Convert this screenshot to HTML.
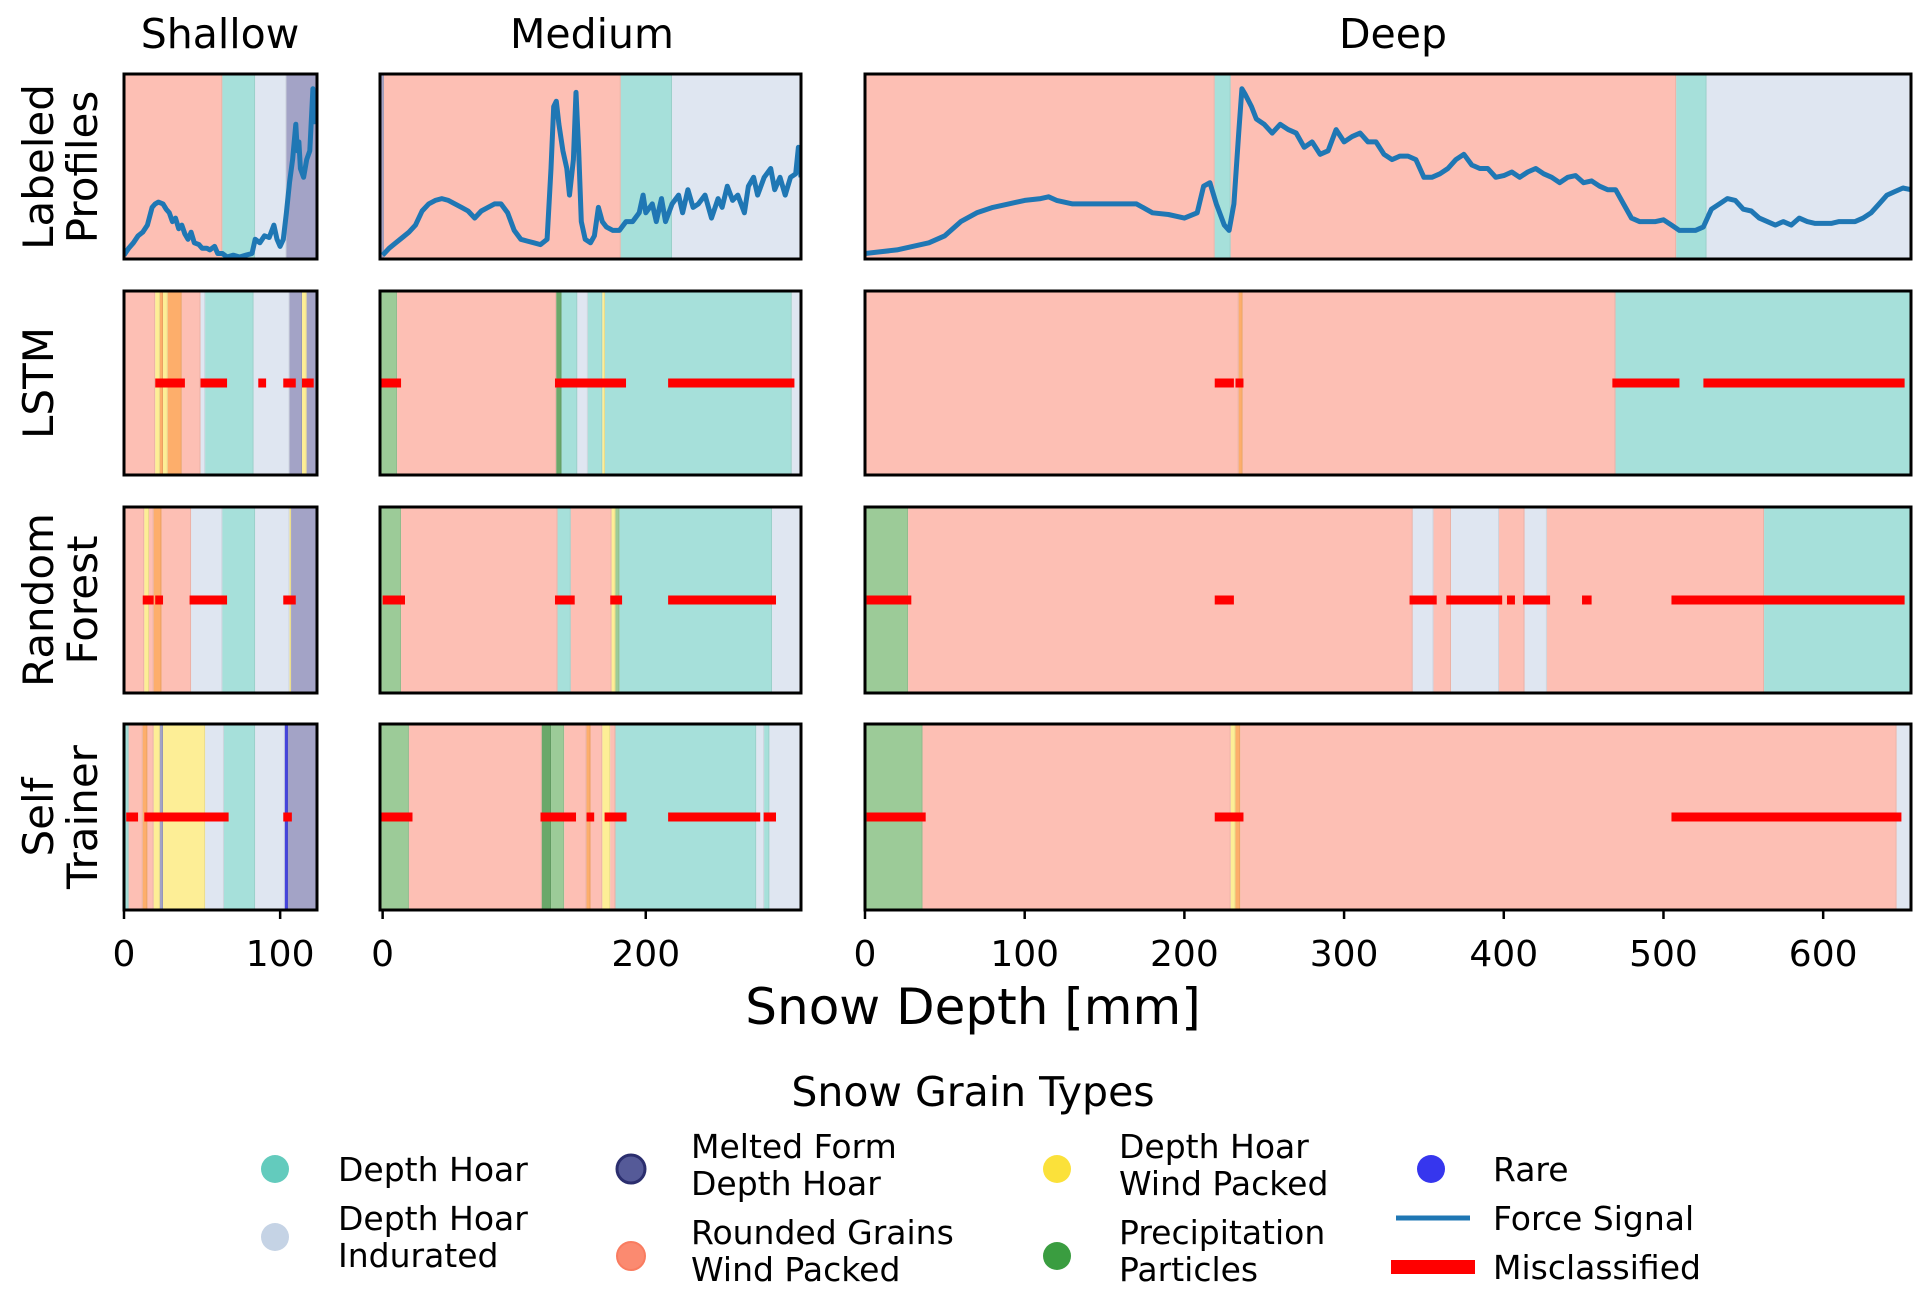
<!DOCTYPE html>
<html><head><meta charset="utf-8"><style>
html,body{margin:0;padding:0;background:#fff;}
svg{display:block;font-family:"DejaVu Sans","Liberation Sans",sans-serif;}
</style></head><body>
<svg id="chart" width="1930" height="1300" viewBox="0 0 1930 1300" xmlns="http://www.w3.org/2000/svg">
<g id="panels"></g>
<text x="220" y="48" font-size="41" text-anchor="middle">Shallow</text>
<text x="592" y="48" font-size="41" text-anchor="middle">Medium</text>
<text x="1393" y="48" font-size="41" text-anchor="middle">Deep</text>
<g font-size="42" text-anchor="middle">
<text transform="translate(53,167) rotate(-90)">Labeled</text>
<text transform="translate(97,167) rotate(-90)">Profiles</text></g>
<g font-size="42" text-anchor="middle">
<text transform="translate(53,383) rotate(-90)">LSTM</text></g>
<g font-size="42" text-anchor="middle">
<text transform="translate(53,600) rotate(-90)">Random</text>
<text transform="translate(97,600) rotate(-90)">Forest</text></g>
<g font-size="42" text-anchor="middle">
<text transform="translate(53,817) rotate(-90)">Self</text>
<text transform="translate(97,817) rotate(-90)">Trainer</text></g>
<text x="973" y="1024" font-size="50" text-anchor="middle">Snow Depth [mm]</text>
<g id="legend" font-size="33" transform="translate(0,-5)">
<text x="973" y="1111" font-size="41" text-anchor="middle">Snow Grain Types</text>
<g><circle cx="275" cy="1174" r="14" fill="#48c2b2" opacity="0.85"/><text x="338" y="1186">Depth Hoar</text></g>
<g><circle cx="275" cy="1242" r="14" fill="#c5d3e5"/><text x="338" y="1235">Depth Hoar</text><text x="338" y="1272">Indurated</text></g>
<g><circle cx="631" cy="1174" r="14" fill="#555a98" stroke="#2b2e6e" stroke-width="3"/><text x="691" y="1163">Melted Form</text><text x="691" y="1200">Depth Hoar</text></g>
<g><circle cx="631" cy="1261" r="14" fill="#fb8a70" stroke="#f97c60" stroke-width="2"/><text x="691" y="1249">Rounded Grains</text><text x="691" y="1286">Wind Packed</text></g>
<g><circle cx="1057" cy="1174" r="14" fill="#fbe13a"/><text x="1119" y="1163">Depth Hoar</text><text x="1119" y="1200">Wind Packed</text></g>
<g><circle cx="1057" cy="1261" r="14" fill="#3a9d40"/><text x="1119" y="1249">Precipitation</text><text x="1119" y="1286">Particles</text></g>
<g><circle cx="1431" cy="1174" r="14" fill="#3636ee"/><text x="1493" y="1186">Rare</text></g>
<g><line x1="1396" y1="1223" x2="1470" y2="1223" stroke="#1f77b4" stroke-width="5"/><text x="1493" y="1235">Force Signal</text></g>
<g><rect x="1391" y="1265" width="84" height="14" fill="#ff0000"/><text x="1493" y="1284">Misclassified</text></g>
</g>
</svg>
<script>
// ---- data ----
const classColors = {RG:'#fdbfb4', DH:'#a6e0da', DHI:'#dfe6f1', MF:'#a3a3c6', DHW:'#fdee96', PP:'#9ccb98', RA:'#4444dd', OR:'#fdae6b', DG:'#6aa86a'};
const columnNames = ['shallow','medium','deep'];
const columnRanges = [[0,123.6],[-2,318],[0,655]];
const tickValues = [[0,100],[0,200],[0,100,200,300,400,500,600]];
const rowNames = ['labeled','lstm','random-forest','self-trainer'];

const segLabeled = [
 [[0,63,'RG'],[63,84,'DH'],[84,104,'DHI'],[104,123.6,'MF']],
 [[-2,1,'MF'],[1,181,'RG'],[181,220,'DH'],[220,318,'DHI']],
 [[0,219,'RG'],[219,229,'DH'],[229,508,'RG'],[508,527,'DH'],[527,655,'DHI']]
];
const segLSTM = [
 [[0,20,'RG'],[20,23,'DHW'],[23,25,'OR'],[25,28,'DHW'],[28,37,'OR'],[37,49,'RG'],[49,52,'DHI'],[52,83,'DH'],[83,106,'DHI'],[106,114,'MF'],[114,117,'DHW'],[117,123.6,'MF']],
 [[-2,11,'PP'],[11,132,'RG'],[132,136,'DG'],[136,148,'DH'],[148,156,'DHI'],[156,167,'DH'],[167,169,'DHW'],[169,311,'DH'],[311,318,'DHI']],
 [[0,234,'RG'],[234,236.5,'OR'],[236.5,470,'RG'],[470,655,'DH']]
];
const segRF = [
 [[0,13,'RG'],[13,16,'DHW'],[16,19,'RG'],[19,24,'OR'],[24,43,'RG'],[43,63,'DHI'],[63,84,'DH'],[84,106,'DHI'],[106,107,'DHW'],[107,123.6,'MF']],
 [[-2,14,'PP'],[14,133,'RG'],[133,143,'DH'],[143,174,'RG'],[174,177,'DHW'],[177,180,'PP'],[180,296,'DH'],[296,318,'DHI']],
 [[0,27,'PP'],[27,343,'RG'],[343,356,'DHI'],[356,367,'RG'],[367,397,'DHI'],[397,413,'RG'],[413,427,'DHI'],[427,563,'RG'],[563,655,'DH']]
];
const segST = [
 [[0,3,'DH'],[3,12,'RG'],[12,15,'OR'],[15,19,'RG'],[19,23,'DHW'],[23,25,'MF'],[25,52,'DHW'],[52,64,'DHI'],[64,84,'DH'],[84,103,'DHI'],[103,105,'RA'],[105,123.6,'MF']],
 [[-2,20,'PP'],[20,121,'RG'],[121,128,'DG'],[128,138,'PP'],[138,155,'RG'],[155,158,'OR'],[158,167,'RG'],[167,173,'DHW'],[173,177,'RG'],[177,284,'DH'],[284,290,'DHI'],[290,294,'DH'],[294,318,'DHI']],
 [[0,36,'PP'],[36,229,'RG'],[229,232,'DHW'],[232,235,'OR'],[235,646,'RG'],[646,655,'DHI']]
];
const missLSTM = [
 [[20,39],[49,66],[86,91],[102,110],[114,121.5]],
 [[-1,14],[131,185],[217,313]],
 [[219,231],[232,237],[468,510],[525,651]]
];
const missRF = [
 [[12,19],[20,25],[42,66],[102,110]],
 [[0,17],[131,146],[173,182],[217,299]],
 [[1,29],[219,231],[341,358],[364,399],[402,407],[412,429],[449,455],[505,651]]
];
const missST = [
 [[1.4,9],[13,67],[102,107.5]],
 [[-1,22.7],[120,147],[155,160.8],[168.7,185.4],[217,287],[289.6,299]],
 [[1,38],[219,237],[505,649]]
];
const forceShallowX = [0,3,6,9,12,15,18,20,22,25,27,29,31,33,35,37,39,41,43,45,48,50,53,55,58,60,63,66,70,74,78,82,84,87,90,93,96,98,100,102,104,106,108,110,111,112,113,115,117,119,121,122];
const forceShallowY = [0.01,0.05,0.08,0.12,0.14,0.18,0.28,0.3,0.31,0.3,0.27,0.25,0.2,0.22,0.16,0.18,0.13,0.1,0.14,0.08,0.07,0.05,0.05,0.04,0.06,0.02,0.02,0.0,0.01,0.0,0.01,0.02,0.1,0.08,0.12,0.11,0.18,0.1,0.06,0.1,0.25,0.42,0.55,0.75,0.6,0.65,0.5,0.45,0.55,0.6,0.95,0.75];
const forceMediumX = [0,5,10,15,20,25,30,35,40,45,50,55,60,65,70,75,80,85,90,95,100,105,110,115,120,125,128,130,132,134,137,140,142,145,147,149,151,154,158,161,164,167,170,175,180,185,190,195,198,200,205,208,212,215,220,225,228,232,236,240,245,250,255,258,262,266,270,275,278,282,285,290,295,298,302,306,310,314,316,318];
const forceMediumY = [0.01,0.05,0.08,0.11,0.14,0.18,0.26,0.3,0.32,0.33,0.32,0.3,0.28,0.26,0.22,0.26,0.28,0.3,0.3,0.25,0.15,0.1,0.09,0.08,0.07,0.1,0.5,0.85,0.88,0.75,0.6,0.5,0.35,0.55,0.93,0.6,0.2,0.1,0.08,0.12,0.28,0.2,0.17,0.15,0.15,0.2,0.2,0.25,0.35,0.25,0.3,0.2,0.33,0.2,0.3,0.35,0.25,0.38,0.28,0.3,0.35,0.22,0.33,0.28,0.4,0.32,0.35,0.25,0.4,0.45,0.35,0.45,0.5,0.38,0.45,0.35,0.45,0.47,0.62,0.45];
const forceDeepX = [0,20,40,50,60,70,80,90,100,110,115,120,130,140,150,160,170,180,190,200,208,212,216,220,225,228,231,234,236,238,242,245,250,255,260,265,270,275,280,285,290,295,300,305,310,315,320,325,330,335,340,345,350,355,360,365,370,375,380,385,390,395,400,405,410,415,420,425,430,435,440,445,450,455,460,465,470,475,480,485,490,495,500,505,510,515,520,525,530,535,540,545,550,555,560,565,570,575,580,585,590,595,600,605,610,615,620,625,630,635,640,645,650,655];
const forceDeepY = [0.02,0.04,0.08,0.12,0.2,0.25,0.28,0.3,0.32,0.33,0.34,0.32,0.3,0.3,0.3,0.3,0.3,0.25,0.24,0.22,0.25,0.4,0.42,0.3,0.18,0.15,0.3,0.7,0.95,0.92,0.85,0.78,0.75,0.7,0.75,0.72,0.7,0.62,0.65,0.58,0.6,0.72,0.65,0.68,0.7,0.65,0.65,0.58,0.55,0.57,0.57,0.55,0.45,0.45,0.47,0.5,0.55,0.58,0.52,0.5,0.5,0.45,0.46,0.48,0.45,0.48,0.5,0.47,0.45,0.42,0.45,0.46,0.42,0.43,0.4,0.38,0.38,0.3,0.22,0.2,0.2,0.2,0.21,0.18,0.15,0.15,0.15,0.17,0.27,0.3,0.33,0.32,0.27,0.26,0.22,0.2,0.18,0.2,0.18,0.22,0.2,0.19,0.19,0.19,0.2,0.2,0.2,0.22,0.25,0.3,0.35,0.37,0.39,0.38];

// ---- layout ----
const colBox = [[124,317],[380,801],[865,1911]];
const rowBox = [[74,259],[291,475],[507,693],[724,910]];
const NS='http://www.w3.org/2000/svg';
const g = document.getElementById('panels');
function mk(tag, attrs, parent){const e=document.createElementNS(NS,tag);for(const k in attrs)e.setAttribute(k,attrs[k]);(parent||g).appendChild(e);return e;}
function xScale(c,v){const [a,b]=columnRanges[c];const [p,q]=colBox[c];return p+(v-a)/(b-a)*(q-p);}
function yScale(r,f){const [t,b]=rowBox[r];return b-2-f*(b-t-8);}

const segRows=[segLabeled,segLSTM,segRF,segST];
const missRows=[null,missLSTM,missRF,missST];
const forceX=[forceShallowX,forceMediumX,forceDeepX];
const forceY=[forceShallowY,forceMediumY,forceDeepY];

for(let r=0;r<4;r++){
 for(let c=0;c<3;c++){
  const pg=mk('g',{});
  
  
  const clipId='clip'+r+c;
  const cp=mk('clipPath',{id:clipId},pg);
  mk('rect',{x:colBox[c][0],y:rowBox[r][0],width:colBox[c][1]-colBox[c][0],height:rowBox[r][1]-rowBox[r][0]},cp);
  const inner=mk('g',{'clip-path':'url(#'+clipId+')'},pg);
  segRows[r][c].forEach(s=>{
   const x0=xScale(c,s[0]),x1=xScale(c,s[1]);
   const rc=mk('rect',{x:x0,y:rowBox[r][0],width:Math.max(1,x1-x0),height:rowBox[r][1]-rowBox[r][0],fill:classColors[s[2]]},inner);
   
   
   const ln=mk('line',{x1:x1,x2:x1,y1:rowBox[r][0],y2:rowBox[r][1],stroke:'#000',"stroke-opacity":0.08,"stroke-width":2},inner);
   
   
  });
  if(r===0){
   const xs=forceX[c],ys=forceY[c];
   let d='';
   for(let i=0;i<xs.length;i++){d+=(i?'L':'M')+xScale(c,xs[i]).toFixed(1)+','+yScale(0,ys[i]).toFixed(1);}
   const p=mk('path',{d:d,fill:'none',stroke:'#1f77b4','stroke-width':5,'stroke-linejoin':'round'},inner);
   
   
  } else {
   const yc=(rowBox[r][0]+rowBox[r][1])/2;
   missRows[r][c].forEach(m=>{
    const x0=xScale(c,m[0]),x1=xScale(c,m[1]);
    const rc=mk('rect',{x:x0,y:yc-4.5,width:x1-x0,height:9,fill:'#ff0000'},inner);
    
    
   });
  }
  const fr=mk('rect',{x:colBox[c][0],y:rowBox[r][0],width:colBox[c][1]-colBox[c][0],height:rowBox[r][1]-rowBox[r][0],fill:'none',stroke:'#000','stroke-width':3},pg);
  
  
  if(r===3){
   tickValues[c].forEach(v=>{
    const x=xScale(c,v);
    const tk=mk('line',{x1:x,x2:x,y1:rowBox[3][1],y2:rowBox[3][1]+9,stroke:'#000','stroke-width':2.5},pg);
    
    
    const tl=mk('text',{x:x,y:rowBox[3][1]+56,'font-size':36,'text-anchor':'middle'},pg);
    tl.textContent=String(v);
    
    
   });
  }
 }
}
</script>
</body></html>
